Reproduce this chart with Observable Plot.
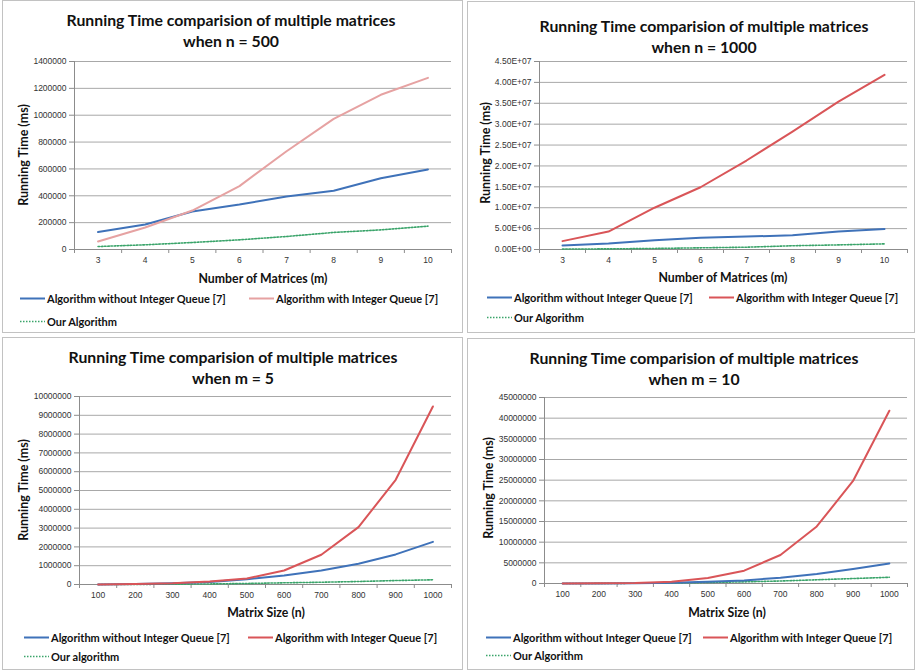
<!DOCTYPE html>
<html><head><meta charset="utf-8">
<script src="https://cdn.jsdelivr.net/npm/d3@7"></script>
<script src="https://cdn.jsdelivr.net/npm/@observablehq/plot@0.6"></script>
<style>
body{margin:0;background:#fff;}
#root{position:relative;width:916px;height:671px;overflow:hidden;font-family:Lato,"Open Sans",sans-serif;color:#111;}
.frame{position:absolute;border:1px solid #c2c2c2;box-sizing:border-box;}
.title{position:absolute;font-weight:bold;font-size:15.8px;line-height:21px;text-align:center;white-space:nowrap;transform:translateX(-50%);}
.ytitle{position:absolute;font-weight:bold;font-size:12.5px;white-space:nowrap;transform:translate(-50%,-50%) rotate(-90deg);}
.xtitle{position:absolute;font-weight:bold;font-size:12.3px;white-space:nowrap;transform:translate(-50%,-50%);}
.leg{position:absolute;font-size:11px;font-weight:bold;white-space:nowrap;display:flex;align-items:center;transform:translateY(-50%);}
.leg svg{margin-right:2px;}
.chart{position:absolute;}
</style></head>
<body><div id="root"></div>
<script>
// ---- data ----
const mCats = [3, 4, 5, 6, 7, 8, 9, 10];
const nCats = [100, 200, 300, 400, 500, 600, 700, 800, 900, 1000];

const n500Without = [130000, 186000, 283000, 335000, 395000, 437000, 531000, 596000];
const n500With    = [60000, 164000, 290000, 472000, 732000, 973000, 1152000, 1278000];
const n500Ours    = [22000, 35000, 52000, 72000, 97000, 127000, 146000, 174000];

const n1000Without = [960000, 1440000, 2200000, 2800000, 3100000, 3400000, 4300000, 4900000];
const n1000With    = [2000000, 4300000, 10000000, 14900000, 21300000, 28200000, 35400000, 41800000];
const n1000Ours    = [100000, 150000, 250000, 400000, 550000, 900000, 1100000, 1350000];

const m5Without = [5000, 20000, 60000, 130000, 280000, 480000, 745000, 1100000, 1600000, 2270000];
const m5With    = [2000, 30000, 70000, 160000, 320000, 745000, 1580000, 3050000, 5570000, 9470000];
const m5Ours    = [1000, 5000, 15000, 30000, 55000, 90000, 120000, 160000, 210000, 250000];

const m10Without = [5000, 20000, 80000, 200000, 400000, 750000, 1400000, 2300000, 3500000, 4850000];
const m10With    = [5000, 50000, 100000, 450000, 1350000, 3100000, 6900000, 13800000, 24800000, 41800000];
const m10Ours    = [5000, 20000, 50000, 120000, 250000, 400000, 600000, 900000, 1200000, 1500000];

const titles = ["when n = 500", "when n = 1000", "when m = 5", "when m = 10"];
const mainTitle = "Running Time comparision of multiple matrices";
const xTitles = ["Number of Matrices (m)", "Number of Matrices (m)", "Matrix Size (n)", "Matrix Size (n)"];
const yTitle = "Running Time (ms)";
const legWithout = "Algorithm without Integer Queue [7]";
const legWith = "Algorithm with Integer Queue [7]";
const legOurs = ["Our Algorithm", "Our Algorithm", "Our algorithm", "Our Algorithm"];

const BLUE = "#3f72b9", RED = "#d95558", PINK = "#e6a2a2", GREEN = "#3aa46a";

const sci = v => {
  if (v === 0) return "0.00E+00";
  const e = Math.floor(Math.log10(v) + 1e-9);
  return (v / Math.pow(10, e)).toFixed(2) + "E+" + String(e).padStart(2, "0");
};
const plain = d3.format("d");

const root = document.getElementById("root");
function add(cls, html, style) {
  const d = document.createElement("div");
  d.className = cls; d.innerHTML = html;
  Object.assign(d.style, style);
  root.appendChild(d);
  return d;
}

function chart(cfg) {
  const {cats, without, withQ, ours, yMax, yStep, fmt, left, top, width, height, mL, mR, mT, mB, withColor} = cfg;
  const step = cats[1] - cats[0];
  const x0 = cats[0] - step / 2, x1 = cats[cats.length - 1] + step / 2;
  const bounds = d3.range(cats.length + 1).map(i => x0 + i * step);
  const yTicks = d3.range(0, yMax + yStep / 2, yStep);
  const rows = s => cats.map((c, i) => ({x: c, y: s[i]}));
  const p = Plot.plot({
    width, height, marginLeft: mL, marginRight: mR, marginTop: mT, marginBottom: mB,
    x: {type: "linear", domain: [x0, x1]},
    y: {type: "linear", domain: [0, yMax]},
    style: {fontFamily: "'Liberation Sans', Arial, sans-serif", fontSize: "8.5px", color: "#333", background: "transparent", overflow: "visible"},
    marks: [
      Plot.gridY({ticks: yTicks.slice(1), stroke: "#a8a8a8", strokeOpacity: 1}),
      Plot.ruleX([x0], {stroke: "#8c8c8c"}),
      Plot.ruleY([0], {stroke: "#8c8c8c"}),
      Plot.axisY({ticks: yTicks, tickFormat: fmt, tickSize: 5, tickPadding: 3, stroke: "#8c8c8c", fill: "#333", label: null}),
      Plot.axisX({ticks: bounds, tickFormat: () => "", tickSize: 4, stroke: "#8c8c8c", label: null}),
      Plot.axisX({ticks: cats, tickFormat: d => String(d), tickSize: 0, tickPadding: 7, fill: "#333", label: null}),
      Plot.line(rows(ours), {x: "x", y: "y", stroke: GREEN, strokeWidth: 1.6, strokeDasharray: "1.6,1.6"}),
      Plot.line(rows(without), {x: "x", y: "y", stroke: BLUE, strokeWidth: 2}),
      Plot.line(rows(withQ), {x: "x", y: "y", stroke: withColor, strokeWidth: 2})
    ]
  });
  p.classList.add("chart");
  p.style.left = left + "px"; p.style.top = top + "px";
  root.appendChild(p);
}

function legItem(x, y, color, dashed, text) {
  const svg = `<svg width="25" height="6"><line x1="0" y1="3" x2="25" y2="3" stroke="${color}" stroke-width="${dashed ? 1.5 : 2}" ${dashed ? 'stroke-dasharray="1.5,1.5"' : ''}/></svg>`;
  add("leg", svg + "<span>" + text + "</span>", {left: x + "px", top: y + "px"});
}

// frames
const frames = [[2, 0, 461, 333], [467, 1, 448, 332], [2, 337, 461, 333], [467, 338, 448, 332]];
frames.forEach(([l, t, w, h]) => add("frame", "", {left: l + "px", top: t + "px", width: w + "px", height: h + "px"}));

// charts
chart({cats: mCats, without: n500Without, withQ: n500With, ours: n500Ours, yMax: 1400000, yStep: 200000, fmt: plain,
  left: 0, top: 0, width: 462, height: 270, mL: 74, mR: 11, mT: 61, mB: 21, withColor: PINK});
chart({cats: mCats, without: n1000Without, withQ: n1000With, ours: n1000Ours, yMax: 45000000, yStep: 5000000, fmt: sci,
  left: 462, top: 0, width: 452, height: 270, mL: 77, mR: 7, mT: 61, mB: 21, withColor: RED});
chart({cats: nCats, without: m5Without, withQ: m5With, ours: m5Ours, yMax: 10000000, yStep: 1000000, fmt: plain,
  left: 0, top: 335, width: 462, height: 270, mL: 79, mR: 11, mT: 61, mB: 21, withColor: RED});
chart({cats: nCats, without: m10Without, withQ: m10With, ours: m10Ours, yMax: 45000000, yStep: 5000000, fmt: plain,
  left: 462, top: 335, width: 452, height: 270, mL: 82, mR: 7, mT: 62, mB: 22, withColor: RED});

// titles
const tpos = [[231, 9], [704, 15], [233, 346], [694, 347]];
tpos.forEach(([x, y], i) => add("title", mainTitle + "<br>" + titles[i], {left: x + "px", top: y + "px"}));
const ypos = [[23, 155], [485, 153], [23, 490], [488, 488]];
ypos.forEach(([x, y]) => add("ytitle", yTitle, {left: x + "px", top: y + "px"}));
const xpos = [[263, 278], [723, 277], [266, 612], [727, 612]];
xpos.forEach(([x, y], i) => add("xtitle", xTitles[i], {left: x + "px", top: y + "px"}));

// legends
const legs = [
  {r1: 298, r2: 321, a: 20, b: 249, c: PINK},
  {r1: 297, r2: 317, a: 487, b: 709, c: RED},
  {r1: 637, r2: 656, a: 24, b: 248, c: RED},
  {r1: 637, r2: 655, a: 486, b: 703, c: RED}
];
legs.forEach((g, i) => {
  legItem(g.a, g.r1, BLUE, false, legWithout);
  legItem(g.b, g.r1, g.c, false, legWith);
  legItem(g.a, g.r2, GREEN, true, legOurs[i]);
});
</script></body></html>
